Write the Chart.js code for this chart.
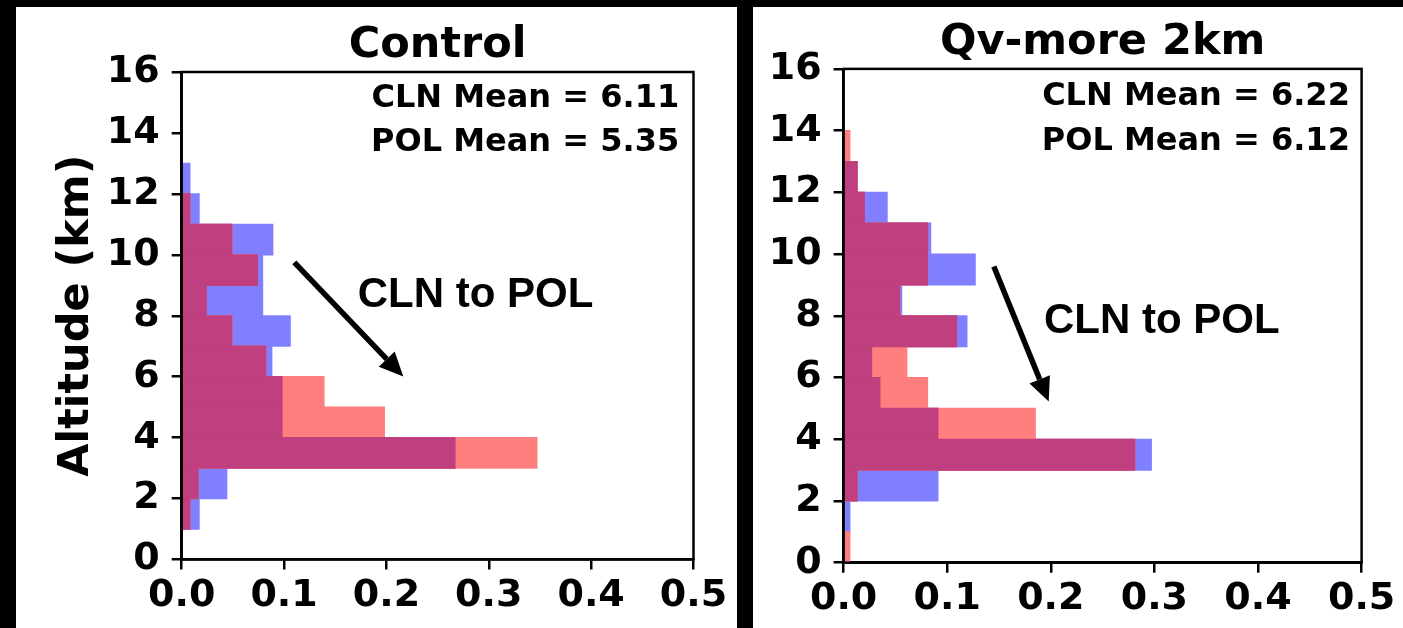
<!DOCTYPE html>
<html>
<head>
<meta charset="utf-8">
<script src="https://cdn.jsdelivr.net/npm/chart.js@4/dist/chart.umd.min.js"></script>
<style>
  html, body { margin: 0; padding: 0; background: #000; width: 1403px; height: 628px; overflow: hidden; }
  .panel { position: absolute; background: #fff; }
  #p1 { left: 16px; top: 7px; width: 721px; height: 621px; }
  #p2 { left: 753px; top: 7px; width: 650px; height: 621px; }
</style>
</head>
<body>
<div class="panel" id="p1"><canvas id="c1" width="721" height="621"></canvas></div>
<div class="panel" id="p2"><canvas id="c2" width="650" height="621"></canvas></div>
<script>
// bin centres, 1 km bins from 0 to 16 km
var altitudeBins = [0.5, 1.5, 2.5, 3.5, 4.5, 5.5, 6.5, 7.5, 8.5, 9.5, 10.5, 11.5, 12.5, 13.5, 14.5, 15.5];

// frequency per bin, lowest bin first
var controlCLN = [0, 0.017, 0.044, 0.267, 0.098, 0.098, 0.088, 0.106, 0.079, 0.079, 0.089, 0.017, 0.008, 0, 0, 0];
var controlPOL = [0, 0.008, 0.016, 0.347, 0.198, 0.139, 0.082, 0.049, 0.024, 0.074, 0.049, 0.008, 0, 0, 0, 0];
var qvCLN = [0, 0.006, 0.091, 0.297, 0.091, 0.035, 0.027, 0.119, 0.056, 0.127, 0.084, 0.042, 0.013, 0, 0, 0];
var qvPOL = [0.006, 0, 0.013, 0.281, 0.185, 0.081, 0.061, 0.109, 0.054, 0.081, 0.081, 0.020, 0.013, 0.006, 0, 0];

var controlMeans = ['CLN Mean = 6.11', 'POL Mean = 5.35'];
var qvMeans = ['CLN Mean = 6.22', 'POL Mean = 6.12'];
var arrowLabel = 'CLN to POL';

var xMax = 0.5, xStep = 0.1;
var yMax = 16, yStep = 2;

// 50% blue, 50% red, and both stacked on white
var blue = '#7f7fff';
var red = '#ff7f7f';
var both = '#bf3f7f';
var font = '"DejaVu Sans", Verdana, sans-serif';

// frame, mean text, arrow and its label
var notesPlugin = {
  id: 'notes',
  afterDatasetsDraw: (chart, args, opts) => {
    var ctx = chart.ctx, xs = chart.scales.x, ys = chart.scales.y, a = chart.chartArea;
    ctx.save();
    ctx.strokeStyle = '#000';
    ctx.fillStyle = '#000';
    ctx.lineWidth = 2.5;
    ctx.strokeRect(a.left, a.top, a.right - a.left, a.bottom - a.top);

    ctx.font = 'bold 32px ' + font;
    ctx.textAlign = 'right';
    ctx.textBaseline = 'alphabetic';
    opts.means.forEach((t, i) => {
      ctx.fillText(t, xs.getPixelForValue(opts.meanAt[0]), ys.getPixelForValue(opts.meanAt[i + 1]));
    });

    ctx.font = 'bold 42px "Liberation Sans", Arial, sans-serif';
    ctx.textAlign = 'left';
    ctx.fillText(opts.label, xs.getPixelForValue(opts.labelAt[0]), ys.getPixelForValue(opts.labelAt[1]));

    var x0 = xs.getPixelForValue(opts.arrow[0]), y0 = ys.getPixelForValue(opts.arrow[1]);
    var x1 = xs.getPixelForValue(opts.arrow[2]), y1 = ys.getPixelForValue(opts.arrow[3]);
    var ang = Math.atan2(y1 - y0, x1 - x0);
    var head = 24, half = 11;
    var bx = x1 - head * Math.cos(ang), by = y1 - head * Math.sin(ang);
    ctx.lineWidth = 5.5;
    ctx.beginPath();
    ctx.moveTo(x0, y0);
    ctx.lineTo(bx, by);
    ctx.stroke();
    ctx.beginPath();
    ctx.moveTo(x1, y1);
    ctx.lineTo(bx + half * Math.sin(ang), by - half * Math.cos(ang));
    ctx.lineTo(bx - half * Math.sin(ang), by + half * Math.cos(ang));
    ctx.closePath();
    ctx.fill();
    ctx.restore();
  }
};

var makeChart = (el, cfg) => {
  var toPoints = (vals) => vals.map((v, i) => ({ x: v, y: altitudeBins[i] }));
  // where both histograms cover the bin
  var overlap = cfg.cln.map((v, i) => Math.min(v, cfg.pol[i]));
  var axisLine = { display: true, color: '#000', width: 2.5 };
  var tickGrid = { display: true, drawOnChartArea: false, drawTicks: true, tickLength: 10, color: '#000', lineWidth: 2.5 };

  return new Chart(el, {
    type: 'bar',
    data: {
      datasets: [
        { label: 'CLN and POL', data: toPoints(overlap), backgroundColor: both },
        { label: 'POL', data: toPoints(cfg.pol), backgroundColor: red },
        { label: 'CLN', data: toPoints(cfg.cln), backgroundColor: blue }
      ]
    },
    options: {
      indexAxis: 'y',
      responsive: false,
      animation: false,
      devicePixelRatio: 1,
      grouped: false,
      categoryPercentage: 1,
      barPercentage: 1,
      elements: { bar: { borderWidth: 0, inflateAmount: 0.6 } },
      layout: { padding: { left: 0, top: 0, right: cfg.padRight, bottom: 0 } },
      plugins: {
        legend: { display: false },
        tooltip: { enabled: false },
        title: {
          display: true,
          fullSize: false,
          text: cfg.title,
          color: '#000',
          font: { family: font, size: 43, weight: 'bold' },
          padding: cfg.titlePad
        },
        notes: {
          means: cfg.means,
          meanAt: cfg.meanAt,
          label: arrowLabel,
          labelAt: cfg.labelAt,
          arrow: cfg.arrow
        }
      },
      scales: {
        x: {
          type: 'linear',
          min: 0,
          max: xMax,
          offset: false,
          border: axisLine,
          grid: tickGrid,
          ticks: {
            stepSize: xStep,
            color: '#000',
            padding: 4,
            maxRotation: 0,
            font: { family: font, size: 38, weight: 'bold' },
            callback: (v) => v.toFixed(1)
          },
          afterFit: (s) => { s.height = cfg.xHeight; }
        },
        y: {
          type: 'linear',
          min: 0,
          max: yMax,
          offset: false,
          border: axisLine,
          grid: Object.assign({}, tickGrid, { offset: false }),
          ticks: {
            stepSize: yStep,
            color: '#000',
            padding: 12,
            font: { family: font, size: 38, weight: 'bold' }
          },
          title: {
            display: cfg.yTitle !== '',
            text: cfg.yTitle,
            color: '#000',
            font: { family: font, size: 43, weight: 'bold' },
            padding: { top: 35, bottom: 0 }
          },
          afterFit: (s) => { s.width = cfg.yWidth; }
        }
      }
    },
    plugins: [notesPlugin]
  });
};

makeChart(document.getElementById('c1'), {
  title: 'Control',
  yTitle: 'Altitude (km)',
  cln: controlCLN,
  pol: controlPOL,
  means: controlMeans,
  meanAt: [0.486, 14.84, 13.41],
  labelAt: [0.172, 8.28],
  arrow: [0.110, 9.75, 0.2165, 6.01],
  padRight: 43.5,
  titlePad: { top: 13, bottom: 0.4 },
  xHeight: 68.5,
  yWidth: 165.7
});

makeChart(document.getElementById('c2'), {
  title: 'Qv-more 2km',
  yTitle: '',
  cln: qvCLN,
  pol: qvPOL,
  means: qvMeans,
  meanAt: [0.4887, 14.83, 13.37],
  labelAt: [0.1934, 7.44],
  arrow: [0.145, 9.60, 0.198, 5.22],
  padRight: 41.4,
  titlePad: { top: 10, bottom: 0.3 },
  xHeight: 65.3,
  yWidth: 90.6
});
</script>
</body>
</html>
